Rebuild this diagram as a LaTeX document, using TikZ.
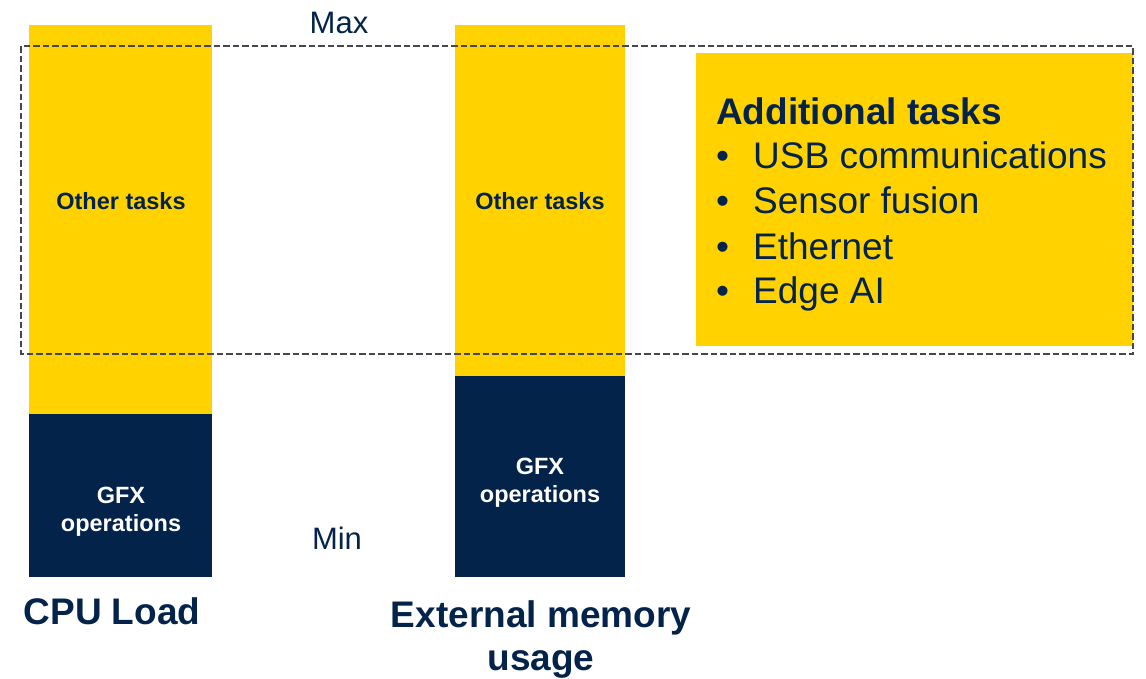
\documentclass[tikz,border=0pt]{standalone}
\usepackage{fontspec}
\setmainfont{Liberation Sans}
\definecolor{styellow}{HTML}{FFD200}
\definecolor{stnavy}{HTML}{03234B}
\definecolor{dashgray}{HTML}{46464E}
\begin{document}
\begin{tikzpicture}[x=1pt,y=-1pt,
  smalltext/.style={font=\bfseries\fontsize{23.5}{29}\selectfont, inner sep=0pt, align=center},
  bigtext/.style={font=\bfseries\fontsize{37}{45}\selectfont, text=stnavy, inner sep=0pt},
  listtext/.style={font=\fontsize{37}{45}\selectfont, text=stnavy, inner sep=0pt, anchor=base west},
  rangetext/.style={font=\fontsize{31}{37}\selectfont, text=stnavy, inner sep=0pt, anchor=base},
  rangebox/.style={draw=dashgray, line width=2.6pt, dash pattern=on 6.5pt off 3pt}]
\useasboundingbox (0,0) rectangle (1146,678);
% bars
\fill[styellow] (29,25) rectangle (212,414);
\fill[stnavy] (29,414) rectangle (212,577);
\fill[styellow] (455,25) rectangle (625,376);
\fill[stnavy] (455,376) rectangle (625,577);
% additional tasks box
\fill[styellow] (696,53) rectangle (1133,346);
% dashed range
\draw[rangebox] (21,46) rectangle (1133,354);
% bar labels
\node[smalltext, text=stnavy, anchor=base] (ot1) at (121,209) {Other tasks};
\node[smalltext, text=stnavy, anchor=base] (ot2) at (540,209) {Other tasks};
\node[smalltext, text=white, anchor=base] (g1a) at (121,503) {GFX};
\node[smalltext, text=white, anchor=base] (g1b) at (121,531) {operations};
\node[smalltext, text=white, anchor=base] (g2a) at (540,474) {GFX};
\node[smalltext, text=white, anchor=base] (g2b) at (540,502) {operations};
% axis labels
\node[rangetext] (max) at (339,33) {Max};
\node[rangetext] (min) at (337,549) {Min};
\node[bigtext, anchor=base] (cpu) at (112,624) {CPU Load};
\node[bigtext, anchor=base] (ext) at (541,627) {External memory};
\node[bigtext, anchor=base] (usage) at (541,670) {usage};
% additional tasks
\node[bigtext, anchor=base west] (title) at (716,124) {Additional tasks};
\foreach \y/\t/\n in {168/USB communications/a,213/Sensor fusion/b,259/Ethernet/c,303/Edge AI/d}{
  \node[listtext] (bul\n) at (716,\y) {\textbullet};
  \node[listtext] (item\n) at (753,\y) {\t};
}
\end{tikzpicture}
\end{document}
